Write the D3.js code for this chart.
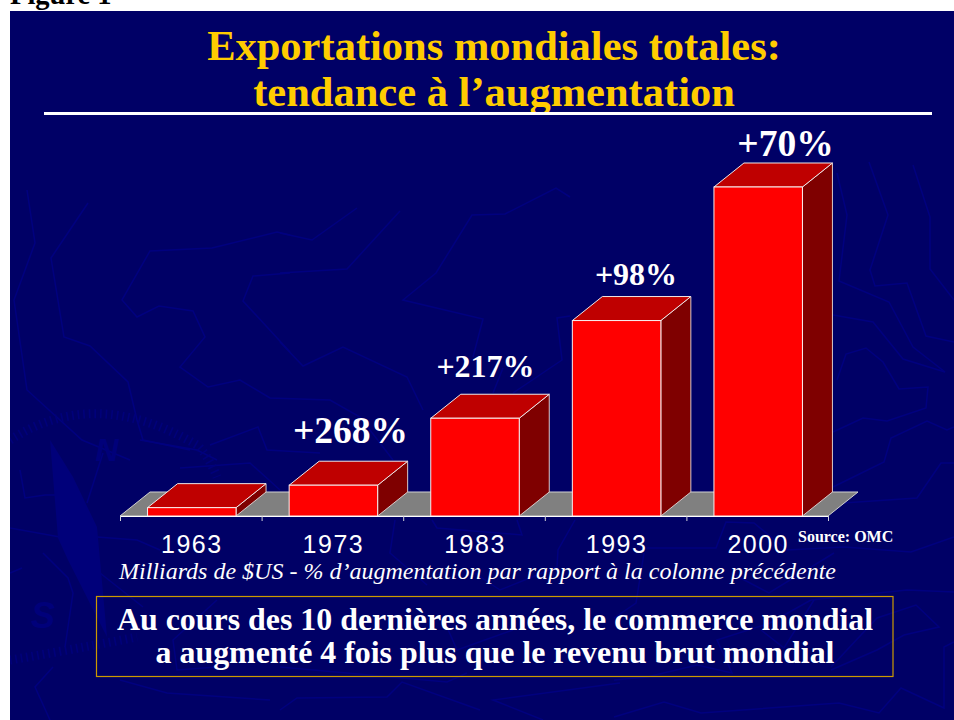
<!DOCTYPE html>
<html><head><meta charset="utf-8">
<script src="https://cdnjs.cloudflare.com/ajax/libs/d3/7.8.5/d3.min.js"></script>
<style>html,body{margin:0;padding:0;background:#fff;overflow:hidden}svg{display:block}</style>
</head><body><svg id="c" width="954" height="720"></svg>
<script>
const years = ["1963","1973","1983","1993","2000"];
const exportsBn = [157,579,1838,3675,6186];
const growthLabels = ["","+268%","+217%","+98%","+70%"];
const titleLines = ["Exportations mondiales totales:","tendance à l’augmentation"];
const noteLines = ["Au cours des 10 dernières années, le commerce mondial","a augmenté 4 fois plus que le revenu brut mondial"];
const subtitle = "Milliards de $US - % d’augmentation par rapport à la colonne précédente";
const source = "Source: OMC";
const serif = "'Liberation Serif','Times New Roman',serif";
const sans = "'Liberation Sans',Arial,sans-serif";

// hand placement of the growth labels, as on the slide
const labelStyle = [
  null,
  {cx:350.5, y:443, size:37.5},
  {cx:485.5, y:377, size:32},
  {cx:636, y:285, size:32},
  {cx:785.5, y:156, size:37.5}
];

const svg = d3.select("#c");
svg.append("rect").attr("x",10).attr("y",11).attr("width",944).attr("height",709).attr("fill","#000066");
svg.append("clipPath").attr("id","slide").append("rect").attr("x",10).attr("y",11).attr("width",944).attr("height",709);

// faint world-map texture in the slide background
const texLayer = svg.append("g").attr("clip-path","url(#slide)");
const tex = texLayer.append("g").attr("fill","none").attr("stroke","#00007f").attr("stroke-width",1.5);
[
 "M27,190 L35,243 L14,300 L27,390 L82,440 L130,460",
 "M88,203 L51,258 L64,337 L90,346 L128,382 L137,420 L143,440 L190,450",
 "M290,235 L277,232 L212,248 L150,251 L122,300 L137,317 L159,306 L193,311 L205,337 L180,367 L208,387 L240,380 L270,398 L330,400 L360,417 L393,460",
 "M290,273 L253,276 L243,301 L290,352",
 "M210,445 L258,427 L267,450 L320,453",
 "M180,468 L250,463 L280,490",
 "M280,233 L312,240 L357,208",
 "M280,273 L347,269 L400,211",
 "M570,197 L556,188 L505,214 L472,215 L436,273 L403,300 L483,319 L473,357",
 "M280,342 L303,366 L343,347 L407,377 L423,410",
 "M570,316 L557,318 L562,360 L513,393",
 "M503,368 L493,393",
 "M837,173 L847,215 L839,281 L889,302 L913,347 L945,372",
 "M869,162 L888,215 L870,270 L875,286 L907,283 L926,336 L954,342",
 "M913,165 L930,217 L930,269 L954,300",
 "M833,315 L873,322 L903,359 L945,372",
 "M837,380 L846,354 L866,348 L883,362 L899,389 L928,387 L926,408 L887,421 L863,418 L833,432",
 "M833,487 L884,462 L891,438 L927,421 L947,430 L954,427",
 "M843,503 L917,498 L941,463 L954,463",
 "M10,528 L60,537",
 "M43,553 L68,578 L73,593 L65,647",
 "M87,503 L103,453",
 "M97,537 L137,540 L160,550",
 "M53,667 L35,687 L50,720",
 "M120,680 L167,693 L270,700",
 "M217,600 L173,640 L177,670 L217,667",
 "M100,573 L143,607",
 "M10,573 L22,568",
 "M140,440 L197,450 L217,460",
 "M20,470 L25,498 L45,495 L60,495",
 "M432,520 L437,528 L522,535 L517,520",
 "M575,520 L558,550 L557,567 L500,590 L470,570",
 "M395,520 L390,553 L427,585",
 "M280,710 L297,698 L387,697 L402,682 L480,710",
 "M620,683 L493,700 L543,720",
 "M280,667 L447,682 L467,673",
 "M447,627 L457,650 L513,630",
 "M614,680 L647,677 L697,665 L732,673 L717,640 L770,623 L811,600",
 "M647,548 L716,548 L726,522 L754,523 L787,550 L844,547 L911,552 L954,537",
 "M644,553 L636,603 L614,618",
 "M731,573 L769,593 L834,553",
 "M811,600 L907,590 L954,592",
 "M831,667 L877,618 L916,605 L939,627 L904,635 L877,650 L831,670",
 "M761,630 L784,648 L814,600",
 "M954,642 L944,647 L944,708 L901,688 L879,713 L839,703 L701,713 L664,702 L614,717"
].forEach(d=>tex.append("path").attr("d",d));
// compass: needle, hatched rose and cardinal letters
texLayer.append("polygon").attr("points","50,440 58,538 68,560 107,637 97,527 73,477").attr("fill","#00007a");
const hatch = texLayer.append("g").attr("fill","none").attr("stroke","#00007a").attr("stroke-width",9).attr("stroke-dasharray","1.6 4");
hatch.append("path").attr("d","M10,440 Q95,385 197,445 Q208,455 217,477");
hatch.append("path").attr("d","M10,660 Q70,650 137,637");
[["N",107,461,32],["S",43,628,36]].forEach(([t,px,py,fs])=>texLayer.append("text").attr("x",px).attr("y",py)
  .attr("text-anchor","middle").attr("font-family",sans).attr("font-weight","bold").attr("font-style","italic")
  .attr("font-size",fs).attr("fill","#00007a").text(t));

// title
svg.append("g").selectAll("text").data(titleLines).join("text")
 .attr("x",494).attr("y",(d,i)=>60+i*46)
 .attr("text-anchor","middle").attr("fill","#FFCC00")
 .attr("font-family",serif).attr("font-weight","bold").attr("font-size",42.5).text(d=>d);
svg.append("rect").attr("x",44).attr("y",112).attr("width",888).attr("height",3).attr("fill","#fff");

svg.append("text").attr("x",10).attr("y",4).attr("font-family",serif).attr("font-weight","bold")
 .attr("font-size",28.5).attr("fill","#000").text("Figure 1");

// chart
const x = d3.scaleBand().domain(years).range([121,829]).paddingInner(0.375).paddingOuter(0.1875);
const y = d3.scaleLinear().domain([0,6186]).range([516,187]);
const depthX = 30, depthY = 24;
const base = y(0);
const poly = p => p.map(q=>q.join(",")).join(" ");

// floor
const floorTop = base-depthY;
svg.append("polygon").attr("points",poly([[120,base],[120+depthX,floorTop],[828+depthX,floorTop],[828,base]]))
 .attr("fill","#808080").attr("stroke","#d0d0d0").attr("stroke-width",1);

const bars = svg.append("g").selectAll("g").data(years).join("g");
bars.each(function(yr,i){
  const g = d3.select(this), l = x(yr), r = l+x.bandwidth(), t = y(exportsBn[i]);
  g.append("polygon").attr("points",poly([[r,base],[r,t],[r+depthX,t-depthY],[r+depthX,base-depthY]]))
   .attr("fill","#7f0000").attr("stroke","#d8c8c8");
  g.append("polygon").attr("points",poly([[l,t],[l+depthX,t-depthY],[r+depthX,t-depthY],[r,t]]))
   .attr("fill","#bf0000").attr("stroke","#f0e8e8");
  g.append("rect").attr("x",l).attr("y",t).attr("width",x.bandwidth()).attr("height",base-t)
   .attr("fill","#ff0000").attr("stroke","#f8eeee");
});

// axis
const axis = d3.axisBottom(d3.scalePoint().domain(d3.range(years.length+1)).range([120,828]))
 .tickSize(5).tickFormat("");
const ax = svg.append("g").attr("transform",`translate(0,${base})`).call(axis);
ax.selectAll("path").attr("stroke","#fff").attr("d","M120.5,0.5H828.5");
ax.selectAll("line").attr("stroke","#d0d0d8");
svg.append("g").selectAll("text").data(years).join("text")
 .attr("x",d=>x(d)+x.bandwidth()/2).attr("y",553).attr("text-anchor","middle")
 .attr("fill","#fff").attr("font-family",sans).attr("font-size",25).attr("letter-spacing",1.5).text(d=>d);

// growth labels
svg.append("g").selectAll("text").data(years.slice(1)).join("text")
 .attr("x",(d,i)=>labelStyle[i+1].cx)
 .attr("y",(d,i)=>labelStyle[i+1].y)
 .attr("text-anchor","middle").attr("fill","#fff").attr("font-family",serif).attr("font-weight","bold")
 .attr("font-size",(d,i)=>labelStyle[i+1].size).text((d,i)=>growthLabels[i+1]);

svg.append("text").attr("x",798).attr("y",542).attr("fill","#fff").attr("font-family",serif)
 .attr("font-weight","bold").attr("font-size",16).text(source);
svg.append("text").attr("x",119).attr("y",578.5).attr("fill","#fff").attr("font-family",serif)
 .attr("font-style","italic").attr("font-size",24).text(subtitle);

// note box
svg.append("rect").attr("x",96.5).attr("y",596.5).attr("width",796.5).attr("height",80)
 .attr("fill","none").attr("stroke","#cc9900").attr("stroke-width",1.2);
svg.append("g").selectAll("text").data(noteLines).join("text")
 .attr("x",495).attr("y",(d,i)=>630+i*33).attr("text-anchor","middle").attr("fill","#fff")
 .attr("font-family",serif).attr("font-weight","bold").attr("font-size",31.9).text(d=>d);
</script></body></html>
